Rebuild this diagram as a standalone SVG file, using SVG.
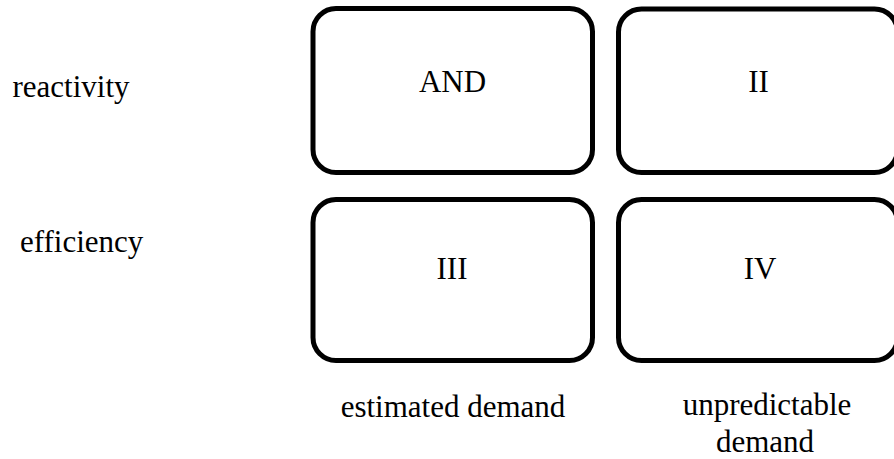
<svg xmlns="http://www.w3.org/2000/svg" width="894" height="459" viewBox="0 0 894 459">
<style>
.box{fill:#fff;stroke:#000;stroke-width:5}
.t{font-family:'Liberation Serif','DejaVu Serif',serif;font-size:31px;fill:#000}
.c{text-anchor:middle}
</style>
<rect width="894" height="459" fill="#fff"/>
<g id="row-labels">
<text class="t" x="12.5" y="96.5">reactivity</text>
<text class="t" x="20" y="252">efficiency</text>
</g>
<g id="node-and">
<rect class="box" x="313" y="8.5" width="279.5" height="164" rx="23" ry="23"/>
<text class="t c" x="452.5" y="92.3">AND</text>
</g>
<g id="node-ii">
<rect class="box" x="618.5" y="9" width="279" height="163.5" rx="23" ry="23"/>
<text class="t c" x="758.5" y="92.3">II</text>
</g>
<g id="node-iii">
<rect class="box" x="313" y="199.5" width="279.5" height="161" rx="23" ry="23"/>
<text class="t c" x="452" y="279">III</text>
</g>
<g id="node-iv">
<rect class="box" x="618.5" y="199.5" width="279" height="161" rx="23" ry="23"/>
<text class="t c" x="760" y="279">IV</text>
</g>
<g id="column-labels">
<text class="t c" x="453" y="416.5">estimated demand</text>
<text class="t c" x="767" y="415">unpredictable</text>
<text class="t c" x="765" y="451.5">demand</text>
</g>
<g id="connectors"></g>
</svg>
